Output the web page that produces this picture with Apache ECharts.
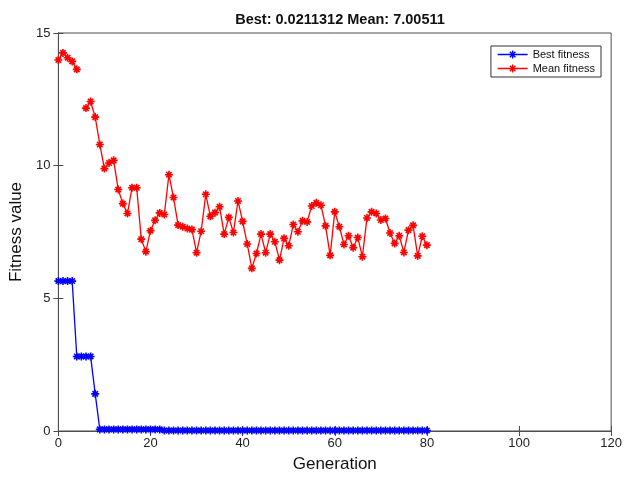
<!DOCTYPE html>
<html>
<head>
<meta charset="utf-8">
<script src="https://cdn.jsdelivr.net/npm/echarts@6/dist/echarts.min.js"></script>
<style>
  html, body { margin: 0; padding: 0; background: #fff; }
  #chart { width: 625px; height: 478px; }
</style>
</head>
<body>
<div id="chart"></div>
<script>
// Genetic algorithm progress: best and mean fitness per generation
const generations = Array.from({ length: 81 }, (_, i) => i);

const bestFitness = [
  5.65, 5.65, 5.65, 5.65, 2.81, 2.81, 2.81, 2.81, 1.40, 0.06,
  0.06, 0.06, 0.06, 0.06, 0.06, 0.06, 0.06, 0.06, 0.06, 0.06,
  0.06, 0.06, 0.06, 0.0211312, 0.0211312, 0.0211312, 0.0211312, 0.0211312, 0.0211312, 0.0211312,
  0.0211312, 0.0211312, 0.0211312, 0.0211312, 0.0211312, 0.0211312, 0.0211312, 0.0211312, 0.0211312, 0.0211312,
  0.0211312, 0.0211312, 0.0211312, 0.0211312, 0.0211312, 0.0211312, 0.0211312, 0.0211312, 0.0211312, 0.0211312,
  0.0211312, 0.0211312, 0.0211312, 0.0211312, 0.0211312, 0.0211312, 0.0211312, 0.0211312, 0.0211312, 0.0211312,
  0.0211312, 0.0211312, 0.0211312, 0.0211312, 0.0211312, 0.0211312, 0.0211312, 0.0211312, 0.0211312, 0.0211312,
  0.0211312, 0.0211312, 0.0211312, 0.0211312, 0.0211312, 0.0211312, 0.0211312, 0.0211312, 0.0211312, 0.0211312,
  0.0211312
];

// generation 5 has no finite mean, so it is left as a gap
const meanFitness = [
  13.98, 14.25, 14.07, 13.93, 13.63, null, 12.17, 12.42, 11.83, 10.80,
  9.89, 10.10, 10.20, 9.10, 8.57, 8.20, 9.17, 9.17, 7.23, 6.76,
  7.55, 7.94, 8.22, 8.16, 9.66, 8.80, 7.76, 7.70, 7.63, 7.59,
  6.72, 7.53, 8.92, 8.09, 8.23, 8.45, 7.42, 8.05, 7.48, 8.67,
  7.90, 7.05, 6.13, 6.69, 7.42, 6.72, 7.42, 7.13, 6.44, 7.26,
  6.98, 7.78, 7.51, 7.92, 7.88, 8.48, 8.60, 8.51, 7.73, 6.62,
  8.26, 7.70, 7.03, 7.36, 6.91, 7.29, 6.57, 8.03, 8.26, 8.20,
  7.95, 8.01, 7.46, 7.07, 7.36, 6.73, 7.57, 7.75, 6.60, 7.34,
  7.00511
];

const xTicks = [0, 20, 40, 60, 80, 100, 120];
const yTicks = [0, 5, 10, 15];

const titleText = 'Best: 0.0211312 Mean: 7.00511';

// eight-armed asterisk marker
const asterisk = 'path://M5,0L5,10M0,5L10,5M1.6,1.6L8.4,8.4M1.6,8.4L8.4,1.6';
// legend key: a short line with an asterisk in its middle (30 x 8 box)
const legendKey = 'path://M0,4L30,4M15,0L15,8M11,4L19,4M12.2,1.2L17.8,6.8M12.2,6.8L17.8,1.2';

const chart = echarts.init(document.getElementById('chart'), null, { renderer: 'canvas' });

const axisColor = '#4d4d4d';
const font = 'Liberation Sans, Arial, sans-serif';

function lineSeries(name, color, values) {
  return {
    name: name,
    type: 'line',
    data: generations.map((g, i) => [g, values[i]]),
    symbol: asterisk,
    symbolSize: 8,
    showAllSymbol: true,
    connectNulls: false,
    lineStyle: { color: color, width: 1.3 },
    itemStyle: { color: 'rgba(0,0,0,0)', borderColor: color, borderWidth: 1.6 },
    emphasis: { disabled: true },
    animation: false
  };
}

function legendEntry(name, color) {
  return {
    name: name,
    icon: legendKey,
    itemStyle: { color: 'rgba(0,0,0,0)', borderColor: color, borderWidth: 1.4 }
  };
}

chart.setOption({
  backgroundColor: '#fff',
  animation: false,
  title: {
    text: titleText,
    left: 335,
    textAlign: 'center',
    top: 7,
    textStyle: { fontFamily: font, fontSize: 14.5, fontWeight: 'bold', color: '#111' }
  },
  legend: {
    orient: 'vertical',
    right: 24,
    top: 46,
    itemWidth: 30,
    itemHeight: 8,
    itemGap: 3,
    padding: [3, 6, 3, 6],
    borderColor: '#333',
    borderWidth: 1,
    backgroundColor: '#fff',
    textStyle: { fontFamily: font, fontSize: 11, color: '#111' },
    data: [legendEntry('Best fitness', '#0000ff'), legendEntry('Mean fitness', '#ff0000')]
  },
  grid: { left: 56, right: 12, top: 33, bottom: 45, show: true, borderColor: axisColor, borderWidth: 1 },
  xAxis: [{
    type: 'value',
    min: xTicks[0],
    max: xTicks[xTicks.length - 1],
    interval: 20,
    name: 'Generation',
    nameLocation: 'middle',
    nameGap: 25,
    nameTextStyle: { fontFamily: font, fontSize: 17, color: '#111' },
    axisLine: { show: true, lineStyle: { color: axisColor } },
    axisTick: { show: true, inside: true, length: 5, lineStyle: { color: axisColor } },
    axisLabel: { fontFamily: font, fontSize: 13, color: '#222', margin: 6 },
    splitLine: { show: false }
  }, {
    type: 'value',
    position: 'top',
    min: xTicks[0],
    max: xTicks[xTicks.length - 1],
    interval: 20,
    axisLine: { show: true, lineStyle: { color: axisColor } },
    axisTick: { show: true, inside: true, length: 5, lineStyle: { color: axisColor } },
    axisLabel: { show: false },
    splitLine: { show: false }
  }],
  yAxis: [{
    type: 'value',
    min: yTicks[0],
    max: yTicks[yTicks.length - 1],
    interval: 5,
    name: 'Fitness value',
    nameLocation: 'middle',
    nameGap: 32,
    nameTextStyle: { fontFamily: font, fontSize: 17, color: '#111' },
    axisLine: { show: true, lineStyle: { color: axisColor } },
    axisTick: { show: true, inside: true, length: 5, lineStyle: { color: axisColor } },
    axisLabel: { fontFamily: font, fontSize: 13, color: '#222', margin: 8 },
    splitLine: { show: false }
  }, {
    type: 'value',
    position: 'right',
    min: yTicks[0],
    max: yTicks[yTicks.length - 1],
    interval: 5,
    axisLine: { show: true, lineStyle: { color: axisColor } },
    axisTick: { show: true, inside: true, length: 5, lineStyle: { color: axisColor } },
    axisLabel: { show: false },
    splitLine: { show: false }
  }],
  series: [
    lineSeries('Best fitness', '#0000ff', bestFitness),
    lineSeries('Mean fitness', '#ff0000', meanFitness)
  ]
});
</script>
</body>
</html>
